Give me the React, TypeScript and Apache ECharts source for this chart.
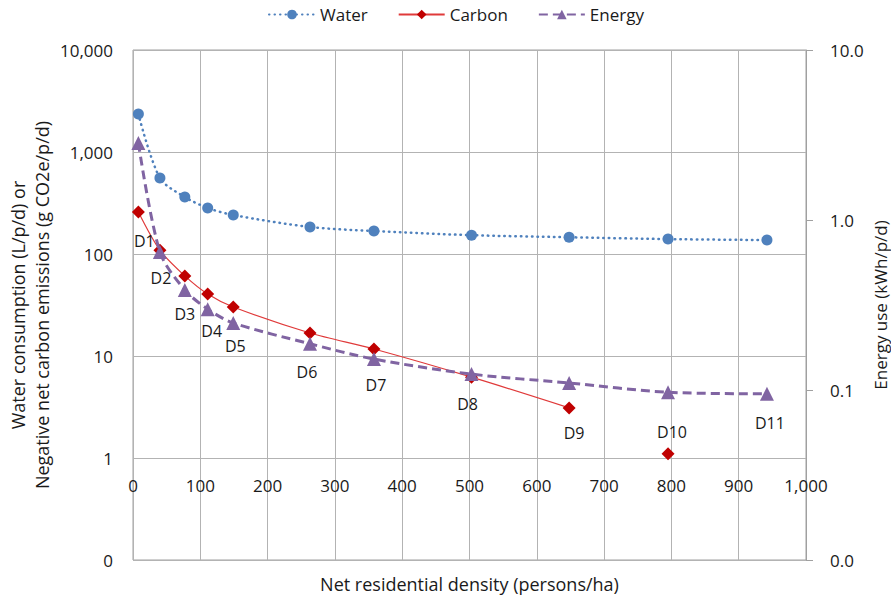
import React, { useEffect, useRef } from "react";
import * as echarts from "echarts";

// ---- Data ----
const pointNames = ["D1", "D2", "D3", "D4", "D5", "D6", "D7", "D8", "D9", "D10", "D11"];
const density = [8, 40, 77, 111, 149, 263, 358, 503, 648, 795, 942];
const water = [2360, 556, 362, 283, 241, 184, 168, 153, 146, 140, 137];
const carbon = [258, 109, 61, 40.5, 30.2, 16.8, 11.7, 6.2, 3.1, 1.1];
const energy = [2.84, 0.649, 0.388, 0.299, 0.248, 0.187, 0.152, 0.124, 0.11, 0.097, 0.095];
const xTicks = [0, 1000, 100];
const leftRange = [0.1, 10000];
const rightRange = [0.01, 10];

// ---- Style (label offsets in px relative to the Energy points) ----
const labelOffsets: number[][] = [
  [6, 98], [1, 26], [0, 24], [4, 22], [2, 23], [-3, 28], [2, 26], [-4, 30], [5, 50], [4, 40], [3, 29],
];

const FONT = "'Open Sans', 'Noto Sans', sans-serif";
const TXT = "#1a1a1a";
const GRID = "#b3b3b3";
const AXIS = "#a0a0a0";

export default function App() {
  const ref = useRef<HTMLDivElement>(null);
  useEffect(() => {
    if (!ref.current) return;
    const chart = echarts.init(ref.current, undefined, { renderer: "svg" });
    const carbonMain = carbon.slice(0, 9).map((v, i) => [density[i], v]);
    const carbonTail = carbon.slice(9).map((v, i) => [density[i + 9], v]);
    chart.setOption({
      animation: false,
      textStyle: { fontFamily: FONT, color: TXT },
      legend: {
        top: 1,
        left: 263,
        itemWidth: 46,
        itemHeight: 12,
        itemGap: 30,
        textStyle: { fontSize: 17, color: TXT, fontFamily: FONT },
        data: ["Water", "Carbon", "Energy"],
      },
      grid: {
        left: 133,
        right: 85,
        top: 50,
        bottom: 41,
        show: true,
        borderColor: AXIS,
        borderWidth: 1,
        containLabel: false,
        outerBoundsMode: "none",
      },
      xAxis: {
        type: "value",
        min: xTicks[0],
        max: xTicks[1],
        interval: xTicks[2],
        offset: -102,
        name: "Net residential density (persons/ha)",
        nameLocation: "middle",
        nameGap: 115,
        nameMoveOverlap: false,
        nameTextStyle: { fontSize: 18, color: TXT, fontFamily: FONT, lineHeight: 22 },
        axisLine: { show: false },
        axisTick: { show: false },
        axisLabel: {
          margin: 19,
          fontSize: 17,
          color: TXT,
          fontFamily: FONT,
          formatter: (v: number) => v.toLocaleString("en-US"),
        },
        splitLine: { show: true, lineStyle: { color: GRID, width: 1 } },
      },
      yAxis: [
        {
          type: "log",
          logBase: 10,
          min: leftRange[0],
          max: leftRange[1],
          position: "left",
          name: "Water consumption (L/p/d) or\nNegative net carbon emissions (g CO2e/p/d)",
          nameLocation: "middle",
          nameGap: 79,
          nameMoveOverlap: false,
          nameRotate: 90,
          nameTextStyle: { fontSize: 18, color: TXT, fontFamily: FONT, lineHeight: 24 },
          axisLine: { show: false },
          axisTick: { show: false },
          axisLabel: {
            margin: 20,
            fontSize: 17,
            color: TXT,
            fontFamily: FONT,
            formatter: (v: number) => (v < 1 ? "0" : Math.round(v).toLocaleString("en-US")),
          },
          splitLine: { show: true, lineStyle: { color: GRID, width: 1 } },
        },
        {
          type: "log",
          logBase: 10,
          min: rightRange[0],
          max: rightRange[1],
          position: "right",
          name: "Energy use (kWh/p/d)",
          nameLocation: "middle",
          nameGap: 64,
          nameMoveOverlap: false,
          nameRotate: 90,
          nameTextStyle: { fontSize: 17, color: TXT, fontFamily: FONT, lineHeight: 20 },
          axisLine: { show: true, lineStyle: { color: AXIS, width: 1 } },
          axisTick: { show: true, length: 7, inside: false, lineStyle: { color: AXIS } },
          axisLabel: {
            margin: 24,
            fontSize: 17,
            color: TXT,
            fontFamily: FONT,
            formatter: (v: number) => v.toFixed(1),
          },
          splitLine: { show: false },
        },
      ],
      series: [
        {
          name: "Water",
          type: "line",
          yAxisIndex: 0,
          data: density.map((x, i) => [x, water[i]]),
          smooth: 0.3,
          symbol: "circle",
          symbolSize: 11,
          itemStyle: { color: "#4F81BD" },
          lineStyle: { color: "#4F81BD", width: 2.5, type: [0.5, 5], cap: "round" },
          z: 3,
        },
        {
          name: "Carbon",
          type: "line",
          yAxisIndex: 0,
          data: carbonMain,
          smooth: 0.3,
          symbol: "diamond",
          symbolSize: 13,
          itemStyle: { color: "#C00000" },
          lineStyle: { color: "#E03A3A", width: 1.2 },
          z: 4,
        },
        {
          name: "Carbon",
          type: "line",
          yAxisIndex: 0,
          data: carbonTail,
          symbol: "diamond",
          symbolSize: 13,
          itemStyle: { color: "#C00000" },
          lineStyle: { color: "#E03A3A", width: 1.2 },
          z: 4,
        },
        {
          name: "Energy",
          type: "line",
          yAxisIndex: 1,
          data: density.map((x, i) => ({
            value: [x, energy[i]],
            label: {
              show: true,
              position: "inside",
              offset: labelOffsets[i],
              formatter: pointNames[i],
              fontSize: 16,
              color: TXT,
              fontFamily: FONT,
            },
          })),
          smooth: 0.3,
          symbol: "triangle",
          symbolSize: 14,
          itemStyle: { color: "#8064A2" },
          lineStyle: { color: "#8064A2", width: 3, type: [9, 5] },
          z: 5,
        },
      ],
    });
    return () => chart.dispose();
  }, []);
  return (
    <div
      ref={ref}
      style={{ position: "absolute", left: 0, top: 0, width: 891, height: 601 }}
    />
  );
}
